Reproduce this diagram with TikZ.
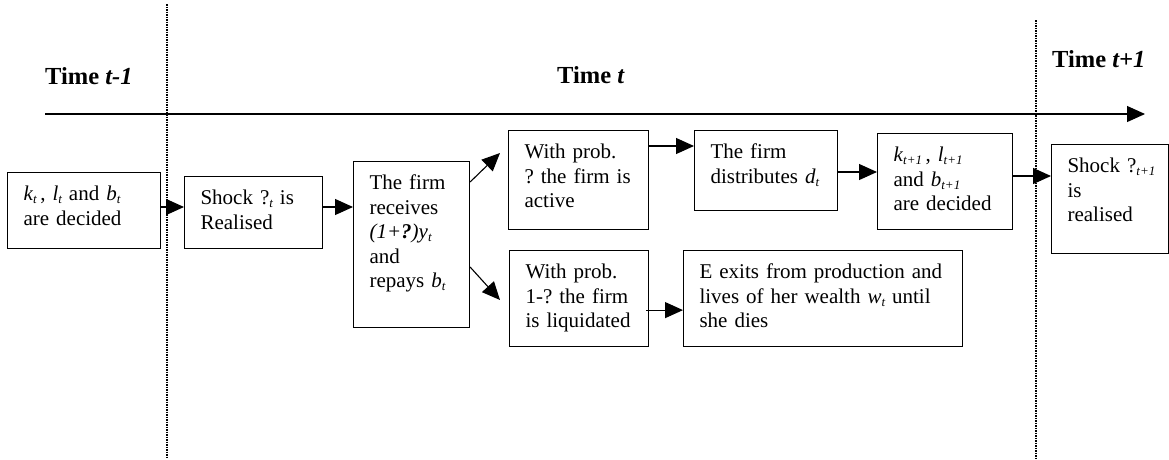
\documentclass[tikz,border=0pt]{standalone}
\usepackage{fontspec}
\setmainfont{Liberation Serif}
\usetikzlibrary{arrows.meta,positioning,calc}

\newcommand{\lowsub}[1]{\raisebox{-0.35ex}{\fontsize{13}{13}\selectfont\itshape #1}}
\newcommand{\vsub}[2]{\textit{#1}\lowsub{#2}}

\tikzset{
	stage/.style={draw, line width=1.1pt, anchor=north west, align=left,
		inner xsep=16pt, inner ysep=0pt, text height=28pt,
		font=\fontsize{21}{24.5}\selectfont},
	arr/.style={line width=1.1pt, -{Triangle[length=18pt,width=16pt]}},
	period/.style={anchor=base west, inner sep=0pt, font=\fontsize{24.5}{29}\selectfont\bfseries},
	cut/.style={line width=1.7pt, dash pattern=on 1.5pt off 1pt}
}

\begin{document}
\begin{tikzpicture}[x=1pt,y=-1pt]
	\useasboundingbox (0,0) rectangle (1169,459);
	% time line
	\coordinate (tstart) at (45,114);
	\coordinate (tend) at (1145,114);
	\draw[arr] (tstart) -- (tend);
	\coordinate (cutA) at (167,4);
	\coordinate (cutAb) at (167,459);
	\coordinate (cutB) at (1036,20);
	\coordinate (cutBb) at (1036,459);
	\draw[cut] (cutA) -- (cutAb);
	\draw[cut] (cutB) -- (cutBb);
	\node[period] (tprev) at (45,84) {Time \textit{t-1}};
	\node[period] (tnow) at (557,83) {Time \textit{t}};
	\node[period] (tnext) at (1052,67) {Time \textit{t+1}};
	% stages
	\node[stage, text width=121pt, text depth=48pt] (decide) at (7,172)
		{\vsub{k}{t}\,, \vsub{l}{t} and \vsub{b}{t}\\are decided};
	\node[stage, text width=106pt, text depth=44pt] (shock) at (184,176)
		{Shock ?\lowsub{t} is\\Realised};
	\node[stage, text width=84pt, text depth=138pt] (receive) at (353,161)
		{The firm\\receives\\\textit{(1+\textbf{?})y}\lowsub{t}\\and\\repays \vsub{b}{t}};
	\node[stage, text width=108pt, text depth=71pt] (active) at (508,130)
		{With prob.\\?~the~firm~is\\active};
	\node[stage, text width=111pt, text depth=52pt] (distr) at (694,130)
		{The firm\\distributes \vsub{d}{t}};
	\node[stage, text width=103pt, text depth=68pt] (decnext) at (877,133)
		{\vsub{k}{t+1}\,, \vsub{l}{t+1}\\and \vsub{b}{t+1}\\are decided};
	\node[stage, text width=85pt, text depth=81pt] (shocknext) at (1051,144)
		{Shock~?\lowsub{t+1}\\is\\realised};
	\node[stage, text width=107pt, text depth=68pt] (liquid) at (509,250)
		{With prob.\\1-?~the~firm\\is liquidated};
	\node[stage, text width=247pt, text depth=68pt] (exits) at (683,250)
		{E exits from production and\\lives of her wealth \vsub{w}{t} until\\she dies};
	% connectors
	\draw[arr] ($(decide.north east)+(0,35)$) -- ($(shock.north west)+(0,31)$);
	\draw[arr] ($(shock.north east)+(0,31)$) -- ($(receive.north west)+(0,46)$);
	\draw[arr] ($(receive.north east)+(0,21)$) -- ($(active.north west)+(-8,23)$);
	\draw[arr] ($(receive.north east)+(0,106)$) -- ($(liquid.north west)+(-9,50)$);
	\draw[arr] ($(active.north east)+(0,16)$) -- ($(distr.north west)+(0,16)$);
	\draw[arr] ($(distr.north east)+(0,42)$) -- ($(decnext.north west)+(0,39)$);
	\draw[arr] ($(decnext.north east)+(0,43)$) -- ($(shocknext.north west)+(0,32)$);
	\draw[arr] ($(liquid.south east)+(-3,-37)$) -- ($(exits.south west)+(0,-37)$);
\end{tikzpicture}
\end{document}
